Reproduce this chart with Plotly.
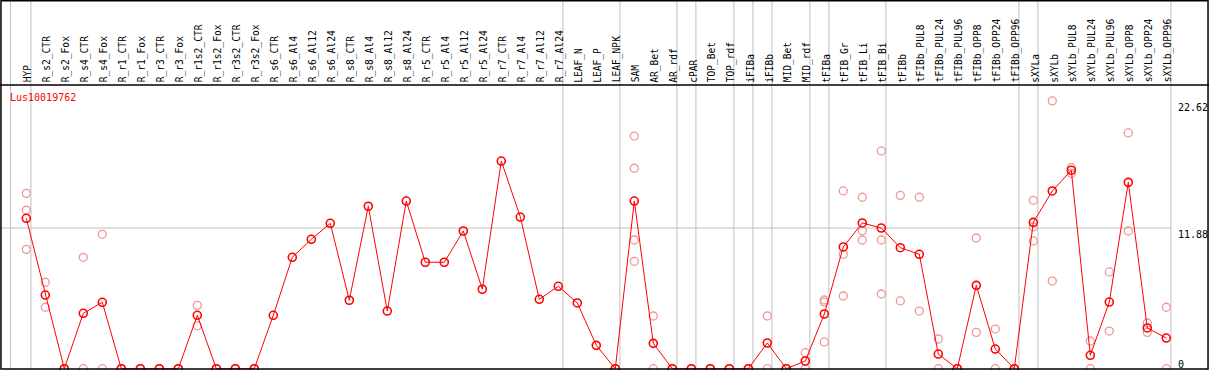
import plotly.graph_objects as go

categories = ["HYP", "R_s2_CTR", "R_s2_Fox", "R_s4_CTR", "R_s4_Fox", "R_r1_CTR", "R_r1_Fox",
              "R_r3_CTR", "R_r3_Fox", "R_r1s2_CTR", "R_r1s2_Fox", "R_r3s2_CTR", "R_r3s2_Fox",
              "R_s6_CTR", "R_s6_Al4", "R_s6_Al12", "R_s6_Al24", "R_s8_CTR", "R_s8_Al4", "R_s8_Al12",
              "R_s8_Al24", "R_r5_CTR", "R_r5_Al4", "R_r5_Al12", "R_r5_Al24", "R_r7_CTR", "R_r7_Al4",
              "R_r7_Al12", "R_r7_Al24", "LEAF_N", "LEAF_P", "LEAF_NPK", "SAM", "AR_Bet", "AR_rdf",
              "cPAR", "TOP_Bet", "TOP_rdf", "iFIBa", "iFIBb", "MID_Bet", "MID_rdf", "tFIBa",
              "tFIB_Gr", "tFIB_Li", "tFIB_Bi", "tFIBb", "tFIBb_PUL8", "tFIBb_PUL24", "tFIBb_PUL96",
              "tFIBb_OPP8", "tFIBb_OPP24", "tFIBb_OPP96", "sXYLa", "sXYLb", "sXYLb_PUL8",
              "sXYLb_PUL24", "sXYLb_PUL96", "sXYLb_OPP8", "sXYLb_OPP24", "sXYLb_OPP96"]

means = [12.70, 6.22, 0, 4.68, 5.61, 0, 0, 0, 0, 4.51, 0, 0, 0,
         4.51, 9.41, 10.93, 12.28, 5.78, 13.72, 4.87, 14.16, 8.99, 8.99, 11.63, 6.71,
         17.54, 12.81, 5.86, 6.96, 5.55, 1.97, 0, 14.16, 2.14, 0, 0, 0, 0, 0, 2.17, 0, 0.65,
         4.62, 10.28, 12.31, 11.88, 10.22, 9.66, 1.24, 0, 7.04, 1.66, 0,
         12.36, 15.01, 16.76, 1.13, 5.63, 15.74, 3.44, 2.59]

replicates = [[14.81, 13.38, 10.08], [7.30, 5.19], [0, 0], [9.41, 0], [11.35, 0], [0, 0], [0, 0],
              [0, 0], [0, 0], [5.35, 3.63], [0, 0], [0, 0], [0, 0],
              [], [], [], [], [], [], [], [], [], [], [], [], [], [], [], [],
              [], [], [0, 0], [19.65, 16.93, 10.87, 9.07], [4.45, 0], [0, 0], [0, 0], [0, 0], [0, 0],
              [0, 0], [4.45, 0], [0, 0], [1.35, 0], [5.80, 5.63, 2.26], [15.01, 9.66, 6.14],
              [14.48, 11.66, 10.87], [18.39, 10.87, 6.31], [14.64, 5.72], [14.48, 4.87], [2.51, 0],
              [0, 0], [11.04, 3.07], [3.35, 0], [0, 0], [14.22, 11.97, 10.79], [22.62, 7.40],
              [16.98, 16.50], [2.34, 0], [8.17, 3.18], [19.91, 11.63], [3.86, 3.07], [5.19, 0]]

group_ends = [-1.07, 0, 28, 31, 34, 35, 37, 38, 39, 41, 42, 45, 52, 53, 60]
y_ticks = [22.62, 11.88, 0]
gene = "Lus10019762"

W, H = 1209, 370
step = 19.0
x0_px = 26.3
xr0 = -x0_px / step
xr1 = xr0 + W / step
plot_top_px = 85
zero_px = 368.7
ymax = 23.96
dom_top = 1 - plot_top_px / H
ymin = -(H - zero_px) / (zero_px - plot_top_px) * ymax

idx = list(range(len(categories)))

fig = go.Figure()

rx, ry = [], []
for i, reps in enumerate(replicates):
    for v in reps:
        rx.append(i)
        ry.append(v)
fig.add_trace(go.Scatter(x=rx, y=ry, mode="markers", cliponaxis=False,
                         marker=dict(symbol="circle-open", size=8, color="rgb(240,150,150)",
                                     line=dict(width=1.3, color="rgb(240,150,150)")),
                         hoverinfo="skip", showlegend=False))
fig.add_trace(go.Scatter(x=idx, y=means, mode="lines+markers", cliponaxis=False,
                         line=dict(color="#ff0000", width=1),
                         marker=dict(symbol="circle-open", size=8, color="#ff0000",
                                     line=dict(width=1.6, color="#ff0000")),
                         showlegend=False))

shapes = []
for g in group_ends:
    xp = g + 4.6 / step
    shapes.append(dict(type="line", xref="x", yref="paper", x0=xp, x1=xp, y0=0, y1=1,
                       line=dict(color="#c0c0c0", width=1), layer="below"))
xr_right = group_ends[-1] + 4.6 / step
shapes.append(dict(type="line", xref="paper", yref="y", x0=0, x1=(xr_right - xr0) / (xr1 - xr0),
                   y0=y_ticks[1], y1=y_ticks[1], line=dict(color="#c0c0c0", width=1), layer="below"))
shapes.append(dict(type="line", xref="paper", yref="paper", x0=0, x1=1, y0=dom_top, y1=dom_top,
                   line=dict(color="black", width=1.5)))
shapes.append(dict(type="rect", xref="paper", yref="paper", x0=0.0008, x1=0.9992, y0=0.003, y1=0.998,
                   line=dict(color="black", width=1.5), fillcolor="rgba(0,0,0,0)"))

annotations = []
for i, c in enumerate(categories):
    annotations.append(dict(x=i, xref="x", y=1 - 83.5 / H, yref="paper", text=c, showarrow=False,
                            textangle=-90, xanchor="center", yanchor="bottom", xshift=1.5,
                            font=dict(family="DejaVu Sans Mono", size=9.6, color="black"),
                            borderpad=0))
annotations.append(dict(x=9 / W, xref="paper", y=1 - 91 / H, yref="paper", text=gene,
                        showarrow=False, xanchor="left", yanchor="top",
                        font=dict(family="DejaVu Sans Mono", size=10, color="#ff0000"), borderpad=0))
for t in y_ticks:
    ypx = zero_px - t / ymax * (zero_px - plot_top_px)
    top_px = min(ypx, 357.5)
    annotations.append(dict(x=1177 / W, xref="paper", y=1 - top_px / H, yref="paper",
                            text=f"{t:g}" if t == 0 else f"{t:.2f}", showarrow=False,
                            xanchor="left", yanchor="top",
                            font=dict(family="DejaVu Sans Mono", size=10, color="black"), borderpad=0))

fig.update_layout(
    width=W, height=H, margin=dict(l=0, r=0, t=0, b=0),
    paper_bgcolor="white", plot_bgcolor="white",
    xaxis=dict(range=[xr0, xr1], visible=False, showgrid=False, zeroline=False),
    yaxis=dict(range=[ymin, ymax], domain=[0, dom_top], visible=False, showgrid=False, zeroline=False),
    shapes=shapes, annotations=annotations,
)

fig.write_html("out.html", config={"displayModeBar": False},
               post_script="document.body.style.margin='0';document.body.style.padding='0';")
